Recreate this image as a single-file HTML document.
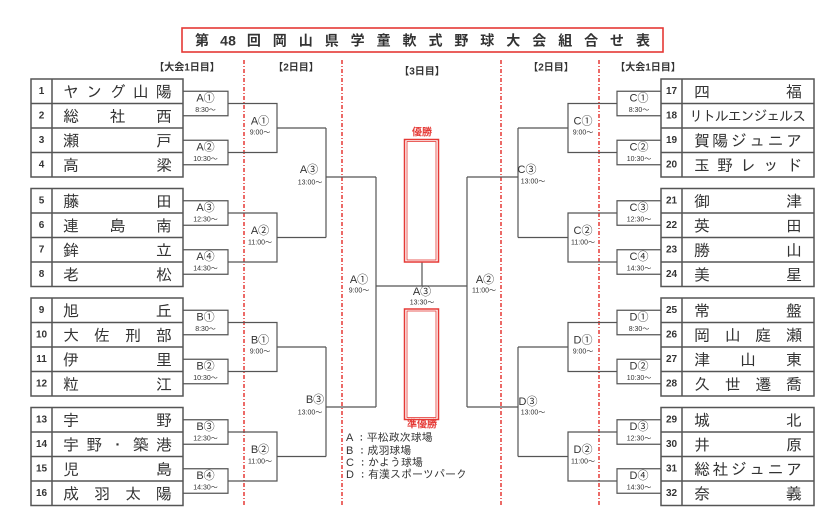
<!DOCTYPE html>
<html><head><meta charset="utf-8">
<style>
html,body{margin:0;padding:0;background:#fff;}
svg{display:block;}
.nm{font-family:"IPAGothic","Noto Sans CJK JP",sans-serif;font-size:16px;fill:#333;dominant-baseline:central;}
.num{font-family:"Liberation Sans",sans-serif;font-size:10px;font-weight:bold;fill:#333;text-anchor:middle;dominant-baseline:central;}
.lb{font-family:"Liberation Sans","Noto Sans CJK JP",sans-serif;font-size:11px;fill:#333;text-anchor:middle;dominant-baseline:central;}
.tm{font-family:"Liberation Sans","Noto Sans CJK JP",sans-serif;font-size:7px;fill:#333;text-anchor:middle;dominant-baseline:central;}
.hd{font-family:"Liberation Sans","Noto Sans CJK JP",sans-serif;font-size:10px;font-weight:bold;fill:#333;text-anchor:middle;dominant-baseline:central;}
.rd{font-family:"Liberation Sans","Noto Sans CJK JP",sans-serif;font-size:10px;font-weight:bold;fill:#e53935;text-anchor:middle;dominant-baseline:central;}
.lg{font-family:"Liberation Sans","IPAGothic","Noto Sans CJK JP",sans-serif;font-size:11px;fill:#333;dominant-baseline:central;}
.tt{font-family:"Liberation Sans","Noto Sans CJK JP",sans-serif;font-size:14px;font-weight:bold;fill:#333;text-anchor:middle;dominant-baseline:central;}
</style></head><body>
<svg width="828" height="516" viewBox="0 0 828 516" xmlns="http://www.w3.org/2000/svg">
<rect width="828" height="516" fill="#fff"/>

<!-- Title -->
<rect x="182" y="28" width="481" height="24" fill="none" stroke="#e53935" stroke-width="1.6"/>
<text class="tt" y="40.5" x="202 224 232 253.9 279.8 305.8 331.7 357.6 383.6 409.5 435.5 461.4 487.3 513.3 539.2 565.2 591.1 617 643">第48回岡山県学童軟式野球大会組合せ表</text>

<!-- Headers -->
<text class="hd" x="187" y="68">【大会1日目】</text>
<text class="hd" x="296" y="68">【2日目】</text>
<text class="hd" x="422" y="72">【3日目】</text>
<text class="hd" x="551" y="68">【2日目】</text>
<text class="hd" x="648" y="68">【大会1日目】</text>

<!-- Red dashed lines -->
<g stroke="#e53935" stroke-width="1.5" stroke-dasharray="4 2 1 2" fill="none">
<path d="M244 60V505 M342 60V505 M501 60V505 M599 60V505"/>
</g>

<!-- Tables -->
<g stroke="#555" stroke-width="1.5" fill="none">
<rect x="31" y="79" width="152" height="98"/>
<path d="M31 103.5H183 M31 128H183 M31 152.5H183 M52 79V177"/>
<rect x="31" y="188.5" width="152" height="98"/>
<path d="M31 213H183 M31 237.5H183 M31 262H183 M52 188.5V286.5"/>
<rect x="31" y="298" width="152" height="98"/>
<path d="M31 322.5H183 M31 347H183 M31 371.5H183 M52 298V396"/>
<rect x="31" y="407.5" width="152" height="98"/>
<path d="M31 432H183 M31 456.5H183 M31 481H183 M52 407.5V505.5"/>

<rect x="661" y="79" width="153" height="98"/>
<path d="M661 103.5H814 M661 128H814 M661 152.5H814 M682 79V177"/>
<rect x="661" y="188.5" width="153" height="98"/>
<path d="M661 213H814 M661 237.5H814 M661 262H814 M682 188.5V286.5"/>
<rect x="661" y="298" width="153" height="98"/>
<path d="M661 322.5H814 M661 347H814 M661 371.5H814 M682 298V396"/>
<rect x="661" y="407.5" width="153" height="98"/>
<path d="M661 432H814 M661 456.5H814 M661 481H814 M682 407.5V505.5"/>
</g>

<!-- Bracket lines -->
<g stroke="#555" stroke-width="1.2" fill="none">
<path d="M183 91.25H228V115.75H183 M183 140.25H228V164.75H183 M228 103.5H277V152.5H228 M277 128H326"/>
<path d="M183 200.75H228V225.25H183 M183 249.75H228V274.25H183 M228 213H277V262H228 M277 237.5H326"/>
<path d="M326 128V237.5 M326 177H376"/>
<path d="M183 310.25H228V334.75H183 M183 359.25H228V383.75H183 M228 322.5H277V371.5H228 M277 347H326"/>
<path d="M183 419.75H228V444.25H183 M183 468.75H228V493.25H183 M228 432H277V481H228 M277 456.5H326"/>
<path d="M326 347V456.5 M326 407H376"/>
<path d="M376 177V407 M376 286H467 M422 262V286"/>

<path d="M661 91.25H617V115.75H661 M661 140.25H617V164.75H661 M617 103.5H568V152.5H617 M568 128H518"/>
<path d="M661 200.75H617V225.25H661 M661 249.75H617V274.25H661 M617 213H568V262H617 M568 237.5H518"/>
<path d="M518 128V237.5 M518 177H467"/>
<path d="M661 310.25H617V334.75H661 M661 359.25H617V383.75H661 M617 322.5H568V371.5H617 M568 347H518"/>
<path d="M661 419.75H617V444.25H661 M661 468.75H617V493.25H661 M617 432H568V481H617 M568 456.5H518"/>
<path d="M518 347V456.5 M518 407H467 M467 177V407"/>
</g>

<!-- Winner / runner-up boxes -->
<g fill="none" stroke="#e53935">
<rect x="404.5" y="139.5" width="34" height="122.5" stroke-width="1.5"/>
<rect x="407" y="141.5" width="29" height="118.5" stroke-width="0.8"/>
<rect x="404.5" y="309" width="34" height="110.5" stroke-width="1.5"/>
<rect x="407" y="311" width="29" height="106.5" stroke-width="0.8"/>
</g>
<text class="rd" x="422" y="133">優勝</text>
<text class="rd" x="422" y="425">準優勝</text>

<!-- Left numbers -->
<text class="num" x="41.5" y="91.25">1</text>
<text class="num" x="41.5" y="115.75">2</text>
<text class="num" x="41.5" y="140.25">3</text>
<text class="num" x="41.5" y="164.75">4</text>
<text class="num" x="41.5" y="200.75">5</text>
<text class="num" x="41.5" y="225.25">6</text>
<text class="num" x="41.5" y="249.75">7</text>
<text class="num" x="41.5" y="274.25">8</text>
<text class="num" x="41.5" y="310.25">9</text>
<text class="num" x="41.5" y="334.75">10</text>
<text class="num" x="41.5" y="359.25">11</text>
<text class="num" x="41.5" y="383.75">12</text>
<text class="num" x="41.5" y="419.75">13</text>
<text class="num" x="41.5" y="444.25">14</text>
<text class="num" x="41.5" y="468.75">15</text>
<text class="num" x="41.5" y="493.25">16</text>

<!-- Right numbers -->
<text class="num" x="671.5" y="91.25">17</text>
<text class="num" x="671.5" y="115.75">18</text>
<text class="num" x="671.5" y="140.25">19</text>
<text class="num" x="671.5" y="164.75">20</text>
<text class="num" x="671.5" y="200.75">21</text>
<text class="num" x="671.5" y="225.25">22</text>
<text class="num" x="671.5" y="249.75">23</text>
<text class="num" x="671.5" y="274.25">24</text>
<text class="num" x="671.5" y="310.25">25</text>
<text class="num" x="671.5" y="334.75">26</text>
<text class="num" x="671.5" y="359.25">27</text>
<text class="num" x="671.5" y="383.75">28</text>
<text class="num" x="671.5" y="419.75">29</text>
<text class="num" x="671.5" y="444.25">30</text>
<text class="num" x="671.5" y="468.75">31</text>
<text class="num" x="671.5" y="493.25">32</text>

<!-- Left names -->
<text class="nm" x="63 86.25 109.5 132.75 156" y="91.25">ヤング山陽</text>
<text class="nm" x="63 109.5 156" y="115.75">総社西</text>
<text class="nm" x="63 156" y="140.25">瀬戸</text>
<text class="nm" x="63 156" y="164.75">高梁</text>
<text class="nm" x="63 156" y="200.75">藤田</text>
<text class="nm" x="63 109.5 156" y="225.25">連島南</text>
<text class="nm" x="63 156" y="249.75">鉾立</text>
<text class="nm" x="63 156" y="274.25">老松</text>
<text class="nm" x="63 156" y="310.25">旭丘</text>
<text class="nm" x="63 94 125 156" y="334.75">大佐刑部</text>
<text class="nm" x="63 156" y="359.25">伊里</text>
<text class="nm" x="63 156" y="383.75">粒江</text>
<text class="nm" x="63 156" y="419.75">宇野</text>
<text class="nm" x="63 86.25 109.5 132.75 156" y="444.25">宇野・築港</text>
<text class="nm" x="63 156" y="468.75">児島</text>
<text class="nm" x="63 94 125 156" y="493.25">成羽太陽</text>

<!-- Right names -->
<text class="nm" x="694 786" y="91.25">四福</text>
<text class="nm" style="font-size:14px" x="689 701.9 714.8 727.6 740.5 753.4 766.3 779.1 792" y="115.75">リトルエンジェルス</text>
<text class="nm" x="694 712.4 730.8 749.2 767.6 786" y="140.25">賀陽ジュニア</text>
<text class="nm" x="694 717 740 763 786" y="164.75">玉野レッド</text>
<text class="nm" x="694 786" y="200.75">御津</text>
<text class="nm" x="694 786" y="225.25">英田</text>
<text class="nm" x="694 786" y="249.75">勝山</text>
<text class="nm" x="694 786" y="274.25">美星</text>
<text class="nm" x="694 786" y="310.25">常盤</text>
<text class="nm" x="694 724.7 755.3 786" y="334.75">岡山庭瀬</text>
<text class="nm" x="694 740 786" y="359.25">津山東</text>
<text class="nm" x="694 724.7 755.3 786" y="383.75">久世遷喬</text>
<text class="nm" x="694 786" y="419.75">城北</text>
<text class="nm" x="694 786" y="444.25">井原</text>
<text class="nm" x="694 712.4 730.8 749.2 767.6 786" y="468.75">総社ジュニア</text>
<text class="nm" x="694 786" y="493.25">奈義</text>

<!-- Left round1 labels -->
<text class="lb" x="205.5" y="98.5">A①</text><text class="tm" x="205.5" y="110.5">8:30～</text>
<text class="lb" x="205.5" y="147.5">A②</text><text class="tm" x="205.5" y="159.5">10:30～</text>
<text class="lb" x="205.5" y="208">A③</text><text class="tm" x="205.5" y="220">12:30～</text>
<text class="lb" x="205.5" y="257">A④</text><text class="tm" x="205.5" y="269">14:30～</text>
<text class="lb" x="205.5" y="317.5">B①</text><text class="tm" x="205.5" y="329.5">8:30～</text>
<text class="lb" x="205.5" y="366.5">B②</text><text class="tm" x="205.5" y="378.5">10:30～</text>
<text class="lb" x="205.5" y="427">B③</text><text class="tm" x="205.5" y="439">12:30～</text>
<text class="lb" x="205.5" y="476">B④</text><text class="tm" x="205.5" y="488">14:30～</text>

<!-- Right round1 labels -->
<text class="lb" x="639" y="98.5">C①</text><text class="tm" x="639" y="110.5">8:30～</text>
<text class="lb" x="639" y="147.5">C②</text><text class="tm" x="639" y="159.5">10:30～</text>
<text class="lb" x="639" y="208">C③</text><text class="tm" x="639" y="220">12:30～</text>
<text class="lb" x="639" y="257">C④</text><text class="tm" x="639" y="269">14:30～</text>
<text class="lb" x="639" y="317.5">D①</text><text class="tm" x="639" y="329.5">8:30～</text>
<text class="lb" x="639" y="366.5">D②</text><text class="tm" x="639" y="378.5">10:30～</text>
<text class="lb" x="639" y="427">D③</text><text class="tm" x="639" y="439">12:30～</text>
<text class="lb" x="639" y="476">D④</text><text class="tm" x="639" y="488">14:30～</text>

<!-- Round2 labels -->
<text class="lb" x="260" y="121.5">A①</text><text class="tm" x="260" y="133">9:00～</text>
<text class="lb" x="260" y="231">A②</text><text class="tm" x="260" y="243">11:00～</text>
<text class="lb" x="260" y="340.5">B①</text><text class="tm" x="260" y="352">9:00～</text>
<text class="lb" x="260" y="450">B②</text><text class="tm" x="260" y="462">11:00～</text>
<text class="lb" x="583" y="121.5">C①</text><text class="tm" x="583" y="133">9:00～</text>
<text class="lb" x="583" y="231">C②</text><text class="tm" x="583" y="243">11:00～</text>
<text class="lb" x="583" y="340.5">D①</text><text class="tm" x="583" y="352">9:00～</text>
<text class="lb" x="583" y="450">D②</text><text class="tm" x="583" y="462">11:00～</text>

<!-- Round3 labels -->
<text class="lb" x="309" y="170">A③</text><text class="tm" x="310" y="183">13:00～</text>
<text class="lb" x="315" y="400">B③</text><text class="tm" x="310" y="413">13:00～</text>
<text class="lb" x="527" y="170">C③</text><text class="tm" x="533" y="182">13:00～</text>
<text class="lb" x="528" y="402">D③</text><text class="tm" x="533" y="413">13:00～</text>

<!-- Round4 / final labels -->
<text class="lb" x="359" y="280">A①</text><text class="tm" x="359" y="291">9:00～</text>
<text class="lb" x="485" y="280">A②</text><text class="tm" x="484" y="291">11:00～</text>
<text class="lb" x="422" y="292">A③</text><text class="tm" x="422" y="303">13:30～</text>

<!-- Legend -->
<text class="lg" x="346" y="438">A ：平松政次球場</text>
<text class="lg" x="346" y="451">B ：成羽球場</text>
<text class="lg" x="346" y="463">C ：かよう球場</text>
<text class="lg" x="346" y="475">D ：有漢スポーツパーク</text>
</svg>
</body></html>
